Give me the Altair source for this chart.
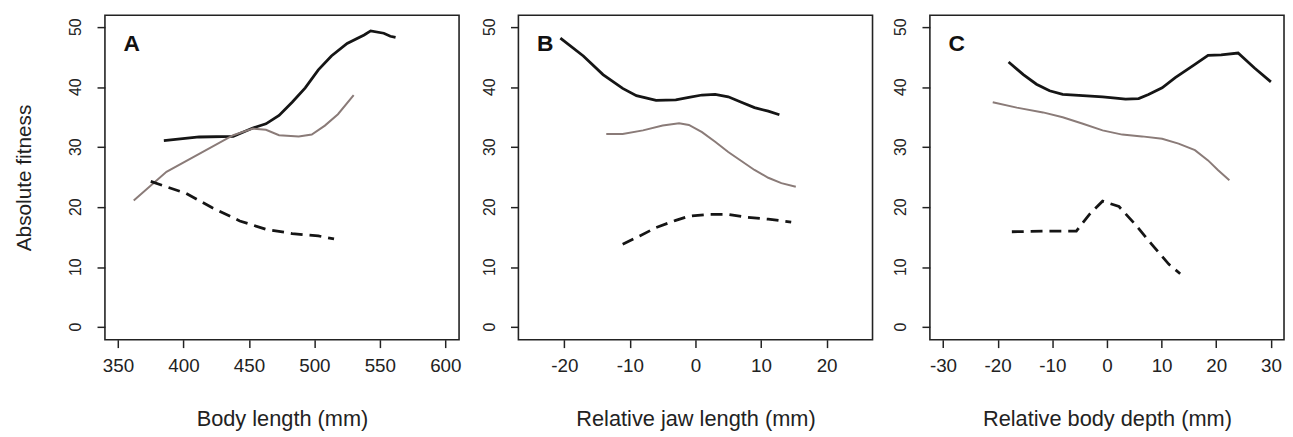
import altair as alt
import pandas as pd

# ---------------- Data ----------------
# Panel A: Body length (mm)
a_black_x = [385, 412, 438, 453, 463, 473, 483, 493, 503, 513, 525, 538, 543, 553, 558, 562]
a_black_y = [31.1, 31.7, 31.8, 33.2, 33.9, 35.3, 37.5, 39.9, 42.9, 45.2, 47.3, 48.7, 49.4, 49.0, 48.5, 48.3]
a_gray_x = [362, 387, 412, 438, 453, 463, 473, 488, 498, 508, 518, 530]
a_gray_y = [21.1, 25.9, 28.9, 32.0, 33.1, 32.9, 32.0, 31.8, 32.1, 33.6, 35.5, 38.7]
a_dash_x = [375, 387, 402, 422, 443, 463, 483, 503, 515]
a_dash_y = [24.3, 23.4, 22.3, 19.9, 17.7, 16.3, 15.6, 15.2, 14.7]

# Panel B: Relative jaw length (mm)
b_black_x = [-20.6, -17.1, -14.1, -11.1, -9.0, -6.0, -3.0, -1.0, 1.0, 3.0, 5.0, 7.0, 9.0, 11.1, 12.8]
b_black_y = [48.2, 45.2, 42.1, 39.8, 38.6, 37.8, 37.9, 38.3, 38.7, 38.8, 38.4, 37.5, 36.6, 36.0, 35.4]
b_gray_x = [-13.6, -11.1, -8.0, -5.0, -2.5, -1.0, 1.0, 3.0, 5.0, 7.0, 9.0, 11.1, 13.1, 15.3]
b_gray_y = [32.2, 32.2, 32.8, 33.6, 34.0, 33.7, 32.5, 30.9, 29.2, 27.7, 26.2, 24.9, 24.0, 23.4]
b_dash_x = [-11.1, -8.5, -6.0, -3.0, -1.0, 2.0, 5.0, 8.0, 11.1, 14.6]
b_dash_y = [13.8, 15.2, 16.6, 17.8, 18.5, 18.8, 18.8, 18.3, 18.0, 17.5]

# Panel C: Relative body depth (mm)
c_black_x = [-18.0, -15.3, -12.9, -10.5, -8.1, -4.4, -0.8, 1.6, 3.4, 5.8, 7.6, 10.1, 12.5, 16.1, 18.5, 20.9, 24.0, 27.0, 30.0]
c_black_y = [44.2, 42.1, 40.5, 39.4, 38.8, 38.6, 38.4, 38.2, 38.0, 38.1, 38.8, 39.9, 41.6, 43.8, 45.3, 45.4, 45.7, 43.2, 40.9]
c_gray_x = [-20.9, -16.5, -11.7, -8.1, -4.4, -0.8, 2.8, 6.4, 10.1, 13.1, 16.1, 18.5, 20.3, 22.4]
c_gray_y = [37.5, 36.6, 35.8, 35.0, 33.9, 32.8, 32.1, 31.8, 31.4, 30.6, 29.5, 27.8, 26.2, 24.5]
c_dash_x = [-17.4, -11.7, -5.6, -3.2, -0.8, 2.2, 5.2, 8.2, 11.3, 13.4]
c_dash_y = [15.9, 16.0, 16.0, 18.8, 21.0, 20.1, 17.1, 13.8, 10.5, 8.9]

panel_letters = ["A", "B", "C"]
x_titles = ["Body length (mm)", "Relative jaw length (mm)", "Relative body depth (mm)"]
y_title = "Absolute fitness"
x_ticks = [[350, 400, 450, 500, 550, 600], [-20, -10, 0, 10, 20], [-30, -20, -10, 0, 10, 20, 30]]
x_domains = [[340, 610.5], [-27, 27], [-32.4, 32.4]]
y_ticks = [0, 10, 20, 30, 40, 50]
y_tick_labels = ["0", "10", "20", "30", "40", "50"]
y_domain = [-2.1, 52]

FONT = "Liberation Sans"
BLACK = "#151515"
GRAY = "#8a7b78"
TXT = "#222"
HYPHEN_LABEL = "datum.value < 0 ? '-' + abs(datum.value) : '' + datum.value"

series = [
    (a_black_x, a_black_y, a_gray_x, a_gray_y, a_dash_x, a_dash_y),
    (b_black_x, b_black_y, b_gray_x, b_gray_y, b_dash_x, b_dash_y),
    (c_black_x, c_black_y, c_gray_x, c_gray_y, c_dash_x, c_dash_y),
]


def panel(i):
    bx, by, gx, gy, dx, dy = series[i]
    xs = alt.Scale(domain=x_domains[i], nice=False, zero=False)
    ys = alt.Scale(domain=y_domain, nice=False, zero=False)
    xax = alt.Axis(values=x_ticks[i], title=x_titles[i], grid=False, domain=False,
                   tickSize=8, tickWidth=1.5, tickColor=TXT, labelFontSize=19,
                   labelPadding=9, labelColor=TXT, labelFont=FONT,
                   labelExpr=HYPHEN_LABEL,
                   titleFont=FONT, titleFontSize=22, titleFontWeight="normal",
                   titleColor=TXT, titlePadding=34, labelFlush=False)
    yax = alt.Axis(values=y_ticks, title=y_title if i == 0 else None, grid=False, domain=False,
                   tickSize=8, tickWidth=1.5, tickColor=TXT, labels=False,
                   titleFont=FONT, titleFontSize=21, titleFontWeight="normal",
                   titleColor=TXT, titlePadding=62)
    df_b = pd.DataFrame({"x": bx, "y": by})
    df_g = pd.DataFrame({"x": gx, "y": gy})
    df_d = pd.DataFrame({"x": dx, "y": dy})
    base_enc = dict(x=alt.X("x:Q", scale=xs, axis=xax), y=alt.Y("y:Q", scale=ys, axis=yax))
    black = alt.Chart(df_b).mark_line(color=BLACK, strokeWidth=2.8).encode(**base_enc)
    gray = alt.Chart(df_g).mark_line(color=GRAY, strokeWidth=2).encode(**base_enc)
    dash = alt.Chart(df_d).mark_line(color=BLACK, strokeWidth=2.8, strokeDash=[12, 7]).encode(**base_enc)
    # R-style rotated y tick labels (reading bottom-to-top)
    ylab = alt.Chart(pd.DataFrame({"v": y_ticks, "t": y_tick_labels})).mark_text(
        font=FONT, fontSize=16, color=TXT, align="center", baseline="bottom"
    ).encode(y=alt.Y("v:Q", scale=ys), x=alt.value(-21), text="t:N", angle=alt.value(-90))
    letter = alt.Chart(pd.DataFrame({"t": [panel_letters[i]]})).mark_text(
        font=FONT, fontSize=23, fontWeight="bold", color="#111", align="center", baseline="middle"
    ).encode(text="t:N", x=alt.value(27), y=alt.value(29))
    return alt.layer(black, gray, dash, ylab, letter).properties(width=358, height=328)


chart = alt.hconcat(panel(0), panel(1), panel(2), spacing=19).properties(
    padding={"left": 5, "top": 4, "right": 0, "bottom": 0}
).configure(background="white").configure_view(stroke="#222", strokeWidth=1.6)

chart.save("out.html", embed_options={"renderer": "svg", "actions": False})
